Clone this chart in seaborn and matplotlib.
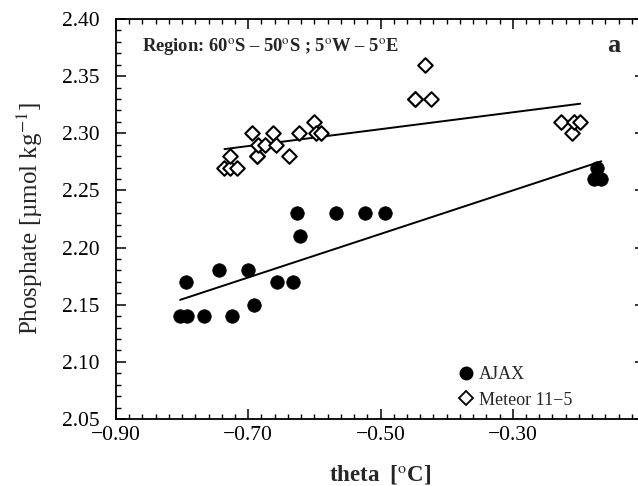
import matplotlib
matplotlib.use("Agg")
import matplotlib.pyplot as plt
import seaborn as sns
import pandas as pd
from matplotlib.ticker import MultipleLocator
from matplotlib.lines import Line2D

# ---- data ----
ajax_theta = [-0.803, -0.793, -0.794, -0.767, -0.744, -0.724, -0.700, -0.691,
              -0.656, -0.633, -0.626, -0.622, -0.567, -0.524, -0.493,
              -0.172, -0.177, -0.166]
ajax_po4 = [2.14, 2.14, 2.17, 2.14, 2.18, 2.14, 2.18, 2.15,
            2.17, 2.17, 2.23, 2.21, 2.23, 2.23, 2.23,
            2.27, 2.26, 2.26]

meteor_theta = [-0.736, -0.728, -0.717, -0.7275, -0.687, -0.687, -0.638,
                -0.695, -0.686, -0.674, -0.662, -0.658, -0.623, -0.600,
                -0.598, -0.590, -0.4485, -0.4485, -0.432, -0.423,
                -0.227, -0.211, -0.208, -0.198]
meteor_po4 = [2.27, 2.27, 2.27, 2.28, 2.28, 2.28, 2.28,
              2.30, 2.29, 2.29, 2.30, 2.29, 2.30, 2.31,
              2.30, 2.30, 2.33, 2.33, 2.36, 2.33,
              2.31, 2.30, 2.31, 2.31]

x_ticks = [-0.90, -0.70, -0.50, -0.30, -0.10]
x_ticklabels = ["\u22120.90", "\u22120.70", "\u22120.50", "\u22120.30", ""]
y_ticks = [2.05, 2.10, 2.15, 2.20, 2.25, 2.30, 2.35, 2.40]
y_ticklabels = ["2.05", "2.10", "2.15", "2.20", "2.25", "2.30", "2.35", "2.40"]
series_names = ["AJAX", "Meteor 11\u22125"]

ajax = pd.DataFrame({"theta": ajax_theta, "po4": ajax_po4})
meteor = pd.DataFrame({"theta": meteor_theta, "po4": meteor_po4})

sns.set_theme(style="ticks")
plt.rcParams["font.family"] = ["Liberation Serif", "DejaVu Serif"]
plt.rcParams["mathtext.fontset"] = "stix"

fig = plt.figure(figsize=(6.38, 4.86), dpi=100)
ax = fig.add_axes([116 / 638, 67 / 486, 529 / 638, 400 / 486])

sns.regplot(data=ajax, x="theta", y="po4", ax=ax, ci=None, truncate=True,
            marker="o",
            scatter_kws=dict(s=95, color="black", edgecolors="black",
                             linewidths=0.5, alpha=1, zorder=3),
            line_kws=dict(color="black", lw=1.4))
sns.regplot(data=meteor, x="theta", y="po4", ax=ax, ci=None, truncate=True,
            marker="D",
            scatter_kws=dict(s=55, facecolors="white", edgecolors="black",
                             linewidths=1.5, alpha=1, zorder=3),
            line_kws=dict(color="black", lw=1.4))

ax.set_xlim(-0.90, -0.10)
ax.set_ylim(2.05, 2.40)
ax.set_xticks(x_ticks, labels=x_ticklabels)
ax.set_yticks(y_ticks, labels=y_ticklabels)
ax.xaxis.set_minor_locator(MultipleLocator(0.02))
ax.yaxis.set_minor_locator(MultipleLocator(0.01))
ax.tick_params(which="both", direction="in", top=True, right=True,
               colors="black")
ax.tick_params(which="major", length=7, width=1.1, labelsize=15.5)
ax.tick_params(which="minor", length=3.5, width=1.0)
ax.tick_params(axis="x", which="major", pad=5)
ax.tick_params(axis="y", which="major", pad=12)
for sp in ax.spines.values():
    sp.set_visible(True)
    sp.set_linewidth(1.3)
    sp.set_color("black")

ax.set_xlabel("theta  [$^{\\mathrm{o}}$C]", fontsize=16.5, fontweight="bold",
              labelpad=13)
ax.set_ylabel("Phosphate [\u00b5mol kg$^{-1}$]", fontsize=18, labelpad=12)

ax.text(0.05, 0.958, "Region: 60$^{\\mathrm{o}}$S \u2013 50$^{\\mathrm{o}}$S ; "
        "5$^{\\mathrm{o}}$W \u2013 5$^{\\mathrm{o}}$E",
        transform=ax.transAxes, fontsize=13.3, fontweight="bold",
        va="top", ha="left")
ax.text(0.94, 0.935, "a", transform=ax.transAxes, fontsize=19,
        fontweight="bold", va="center", ha="center")

handles = [
    Line2D([], [], ls="none", marker="o", markersize=9, color="black"),
    Line2D([], [], ls="none", marker="D", markersize=7, markerfacecolor="white",
           markeredgecolor="black", markeredgewidth=1.3),
]
ax.legend(handles, series_names, loc="lower left",
          bbox_to_anchor=(0.635, 0.008), frameon=False, fontsize=13,
          handlelength=0.8, handletextpad=0.3, labelspacing=0.45,
          borderaxespad=0.0)

fig.savefig("out.png", dpi=100)
